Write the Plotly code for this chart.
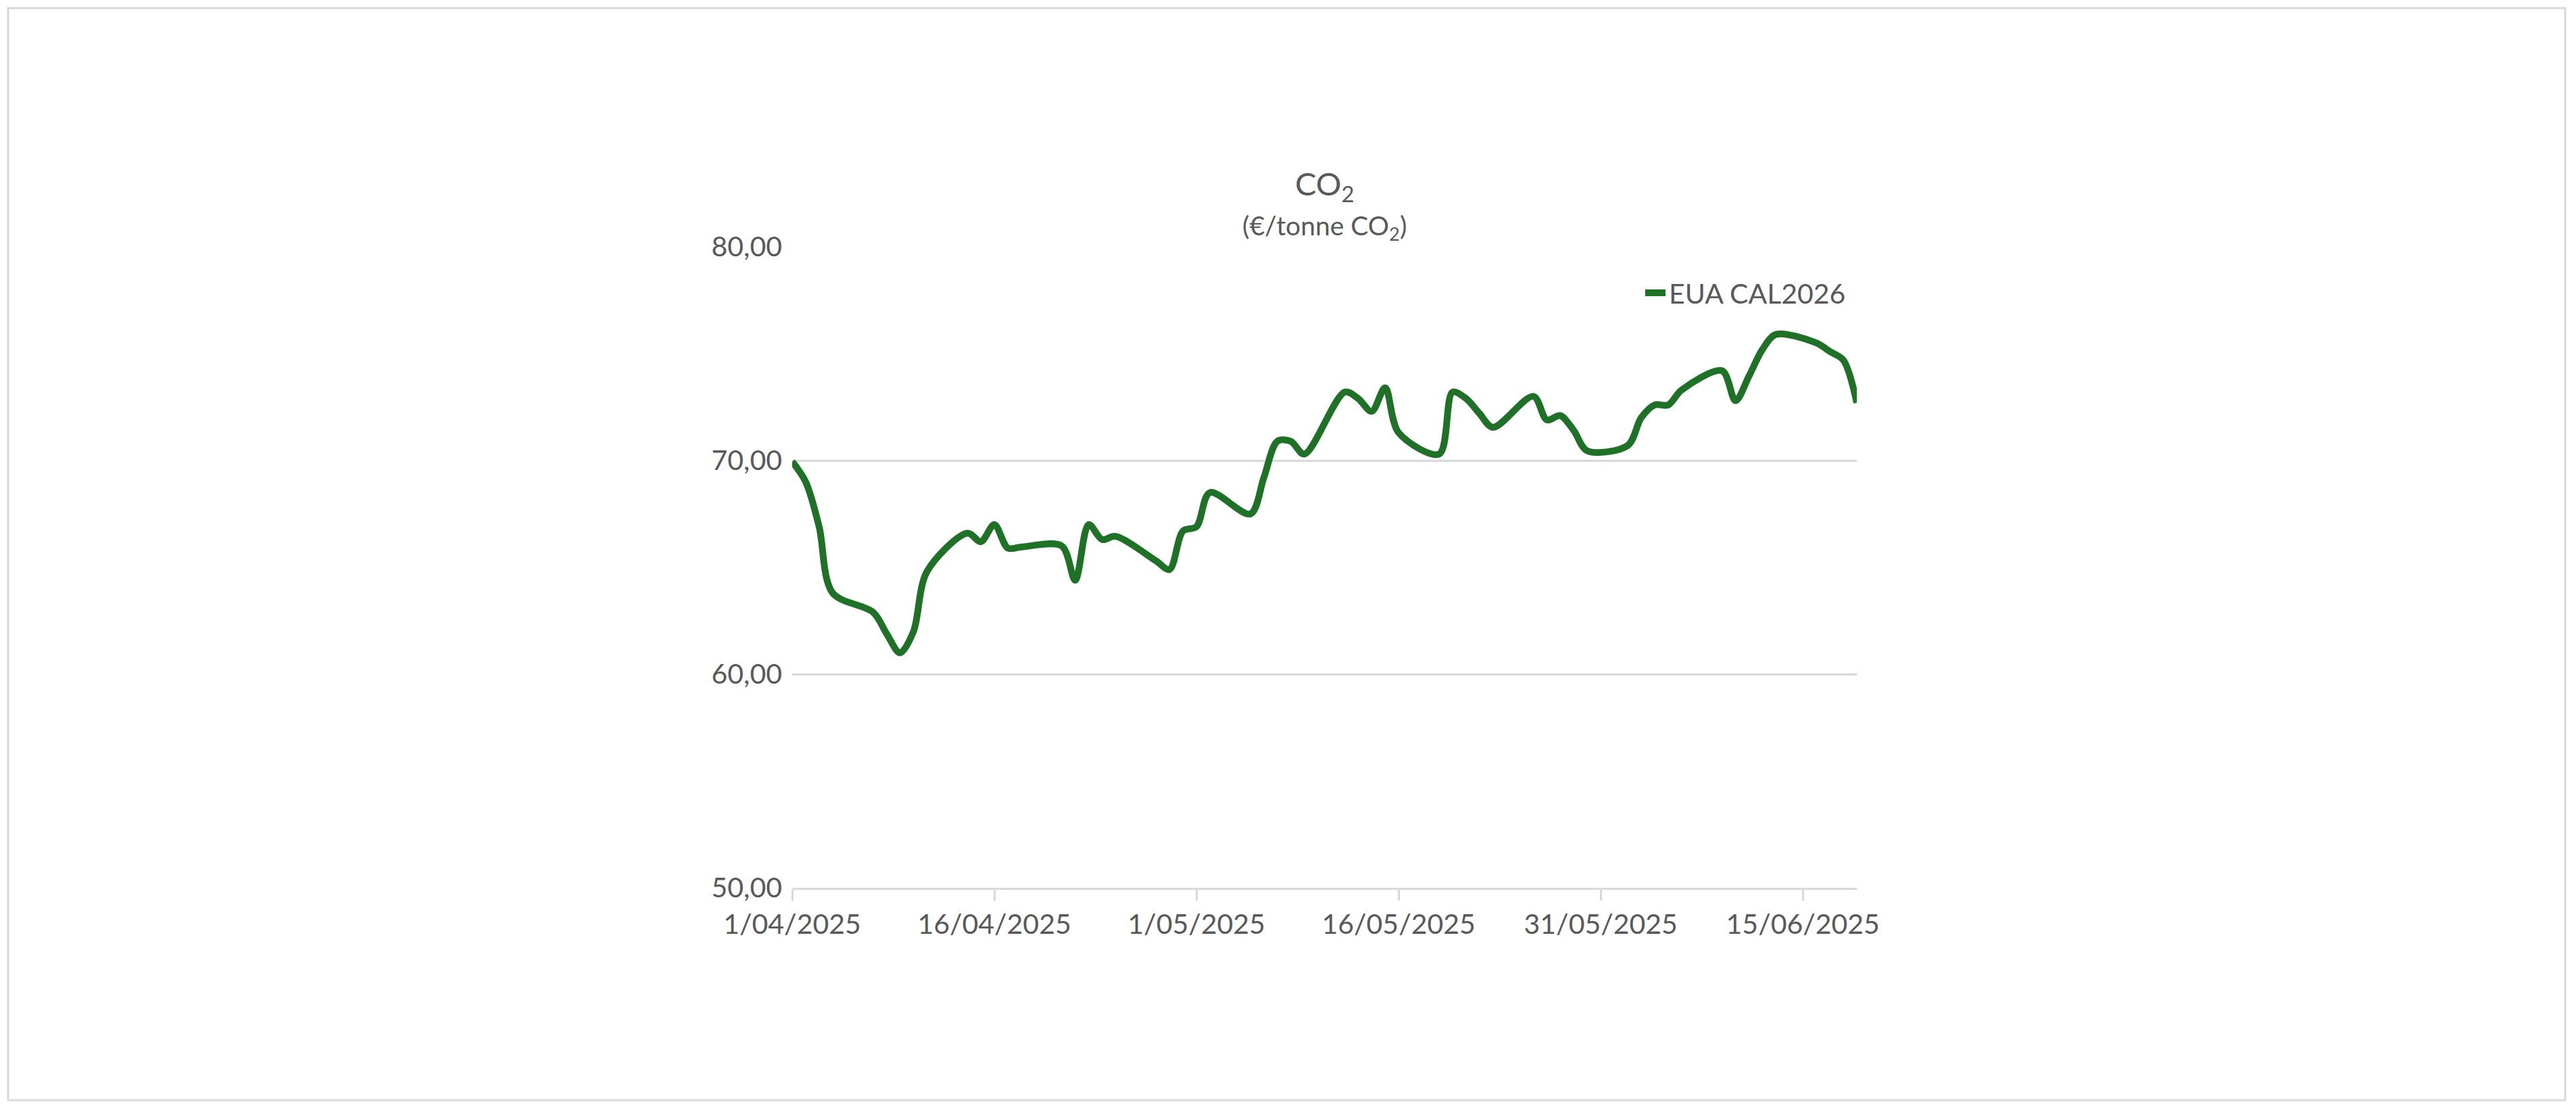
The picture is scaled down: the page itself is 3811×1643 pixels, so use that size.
import plotly.graph_objects as go

dates = ["2025-04-01","2025-04-02","2025-04-03","2025-04-04","2025-04-07","2025-04-08","2025-04-09","2025-04-10","2025-04-11",
         "2025-04-14","2025-04-15","2025-04-16","2025-04-17","2025-04-18","2025-04-21","2025-04-22","2025-04-23","2025-04-24","2025-04-25",
         "2025-04-28","2025-04-29","2025-04-30","2025-05-01","2025-05-02","2025-05-05","2025-05-06","2025-05-07","2025-05-08",
         "2025-05-09","2025-05-12","2025-05-13","2025-05-14","2025-05-15","2025-05-16","2025-05-19","2025-05-20","2025-05-21",
         "2025-05-22","2025-05-23","2025-05-26","2025-05-27","2025-05-28","2025-05-29","2025-05-30","2025-06-02","2025-06-03",
         "2025-06-04","2025-06-05","2025-06-06","2025-06-09","2025-06-10","2025-06-11","2025-06-12","2025-06-13","2025-06-16",
         "2025-06-17","2025-06-18","2025-06-19"]
eua_cal2026 = [69.95,69.0,66.9,63.8,62.9,61.9,61.0,62.0,64.8,
               66.6,66.2,67.0,65.9,65.95,66.0,64.4,67.0,66.3,66.45,
               65.3,64.9,66.7,66.9,68.5,67.5,69.2,70.9,70.9,
               70.3,73.2,72.9,72.3,73.4,71.3,70.3,73.2,72.9,
               72.2,71.55,73.0,71.9,72.1,71.4,70.45,70.7,72.0,
               72.6,72.6,73.3,74.2,72.8,73.95,75.2,75.9,75.5,
               75.1,74.7,72.7]
tick_dates = ["2025-04-01","2025-04-16","2025-05-01","2025-05-16","2025-05-31","2025-06-15"]
tick_labels = ["1/04/2025","16/04/2025","1/05/2025","16/05/2025","31/05/2025","15/06/2025"]
y_ticks = [50, 60, 70, 80]

W, H = 3811, 1643
L, R, T, B = 1164, 1072, 357, 338
pw, ph = W - L - R, H - T - B
txt = "#595959"
font = "Lato, 'Open Sans', sans-serif"

fig = go.Figure(go.Scatter(x=dates, y=eua_cal2026, mode="lines", name="EUA CAL2026",
                           line=dict(color="#1E7126", width=10, shape="spline", smoothing=0.9)))

fig.update_layout(
    width=W, height=H, paper_bgcolor="white", plot_bgcolor="white",
    margin=dict(l=L, r=R, t=T, b=B),
    separators=", ",
    font=dict(family=font, color=txt, size=41),
    showlegend=True,
    legend=dict(x=0.993, y=0.928, xanchor="right", yanchor="middle", font=dict(size=41, color=txt),
                bgcolor="rgba(0,0,0,0)"),
    xaxis=dict(type="date", range=["2025-04-01", "2025-06-19"], tickvals=tick_dates, ticktext=tick_labels,
               showgrid=False, showline=True, linecolor="#D9D9D9", linewidth=3,
               ticks="outside", ticklen=16, tickwidth=3, tickcolor="#D9D9D9",
               tickfont=dict(size=41, color=txt), zeroline=False),
    yaxis=dict(range=[50, 80], tickvals=y_ticks, tickformat=".2f", showgrid=True, gridcolor="#D9D9D9",
               gridwidth=3, zeroline=False, ticks="", ticklabelstandoff=14,
               tickfont=dict(size=41, color=txt)),
    annotations=[
        dict(text="CO<sub>2</sub>", x=0.5, y=1 + (T - 267) / ph, xref="paper", yref="paper",
             showarrow=False, font=dict(size=47, color=txt), yanchor="middle"),
        dict(text="(€/tonne CO<sub>2</sub>)", x=0.5, y=1 + (T - 328) / ph, xref="paper", yref="paper",
             showarrow=False, font=dict(size=39, color=txt), yanchor="middle"),
    ],
    shapes=[dict(type="rect", xref="paper", yref="paper",
                 x0=-(L - 4) / pw, x1=1 + (R - 24) / pw, y0=-(B - 24) / ph, y1=1 + (T - 4) / ph,
                 line=dict(color="#D9D9D9", width=3), layer="below")],
)

fig.write_html("out.html")
